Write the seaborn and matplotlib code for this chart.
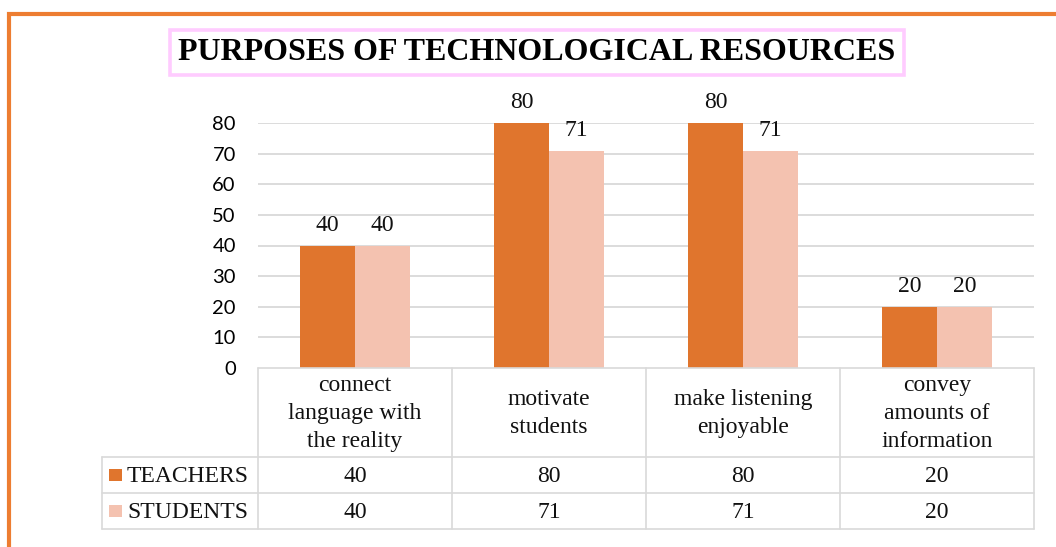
import matplotlib
matplotlib.use("Agg")
import matplotlib.pyplot as plt
from matplotlib.patches import Rectangle
import seaborn as sns
import pandas as pd

# ---- data ----
categories = ["connect\nlanguage with\nthe reality", "motivate\nstudents",
              "make listening\nenjoyable", "convey\namounts of\ninformation"]
series_names = ["TEACHERS", "STUDENTS"]
teachers = [40, 80, 80, 20]
students = [40, 71, 71, 20]
y_ticks = [0, 10, 20, 30, 40, 50, 60, 70, 80]
title = "PURPOSES OF TECHNOLOGICAL RESOURCES"

colors = {"TEACHERS": "#E0752D", "STUDENTS": "#F4C2B0"}
grid_c = "#D9D9D9"

df = pd.DataFrame({
    "category": categories * 2,
    "group": [series_names[0]] * 4 + [series_names[1]] * 4,
    "value": teachers + students,
})

sns.set_theme(style="white")
plt.rcParams["font.family"] = ["Liberation Serif", "DejaVu Serif"]

W, H = 1056, 547
fig = plt.figure(figsize=(W / 100, H / 100), dpi=100)


def fx(px):
    return px / W


def fy(py):
    return 1 - py / H


# plot area
x0, x1, y_top, y_base = 258, 1034, 123, 368
ax = fig.add_axes([fx(x0), fy(y_base), fx(x1 - x0), (y_base - y_top) / H])
sns.barplot(data=df, x="category", y="value", hue="group", palette=colors,
            width=0.567, gap=0, linewidth=0, saturation=1, ax=ax, legend=False)
ax.set_xlim(-0.5, 3.5)
ax.set_ylim(0, 80)
ax.set_yticks(y_ticks)
ax.set_yticklabels([str(t) for t in y_ticks], family="Lato", fontsize=14.5, color="black")
ax.tick_params(axis="y", length=0, pad=16)
ax.set_xticks([])
ax.set_xlabel("")
ax.set_ylabel("")
for s in ax.spines.values():
    s.set_visible(False)
for t in y_ticks[1:]:
    ax.axhline(t, color=grid_c, lw=1.3, zorder=0)
ax.set_axisbelow(True)
for cont in ax.containers:
    ax.bar_label(cont, fmt="%g", padding=7, fontsize=17, color="#111111",
                 annotation_clip=False)

# data table below the plot
tl, tb = 102, 529
col_w = (x1 - x0) / 4
left_u = -0.5 - (x0 - tl) / col_w
tax = fig.add_axes([fx(tl), fy(tb), fx(x1 - tl), (tb - y_base) / H])
tax.set_xlim(left_u, 3.5)
tax.set_ylim(tb - y_base, 0)
tax.axis("off")
hdr, rh = 89, 36
lw_t = 1.2
tax.plot([-0.5, 3.5], [0, 0], color=grid_c, lw=lw_t, clip_on=False)
for yy in (hdr, hdr + rh, hdr + 2 * rh):
    tax.plot([left_u, 3.5], [yy, yy], color=grid_c, lw=lw_t, clip_on=False)
for xx in (-0.5, 0.5, 1.5, 2.5, 3.5):
    tax.plot([xx, xx], [0, hdr + 2 * rh], color=grid_c, lw=lw_t, clip_on=False)
tax.plot([left_u, left_u], [hdr, hdr + 2 * rh], color=grid_c, lw=lw_t, clip_on=False)

fs_tab = 17
for i, c in enumerate(categories):
    tax.text(i, hdr / 2 + 1, c, ha="center", va="center", fontsize=fs_tab,
             linespacing=1.43, color="#111111")
px_u = 1 / col_w
for r, (name, vals) in enumerate(zip(series_names, [teachers, students])):
    yc = hdr + rh * r + rh / 2
    tax.add_patch(Rectangle((left_u + 7 * px_u, yc - 6), 13 * px_u, 12,
                            color=colors[name], lw=0, clip_on=False))
    tax.text(left_u + 25 * px_u, yc + 1, name, ha="left", va="center",
             fontsize=fs_tab, color="#111111")
    for i, v in enumerate(vals):
        tax.text(i, yc + 1, str(v), ha="center", va="center", fontsize=fs_tab,
                 color="#111111")

# title with its box
fig.add_artist(Rectangle((fx(170), fy(75)), fx(904 - 170), (75 - 30) / H,
                         transform=fig.transFigure, fill=False,
                         edgecolor="#FFCCFF", lw=2.6))
fig.text(fx(537), fy(53), title, ha="center", va="center", fontsize=23,
         fontweight="bold", color="black")

# outer frame
fig.add_artist(Rectangle((fx(9), fy(H + 20)), fx(W + 20), (H + 20 - 14) / H,
                         transform=fig.transFigure, fill=False,
                         edgecolor="#ED7D31", lw=3))

fig.savefig("out.png", dpi=100, facecolor="white")
